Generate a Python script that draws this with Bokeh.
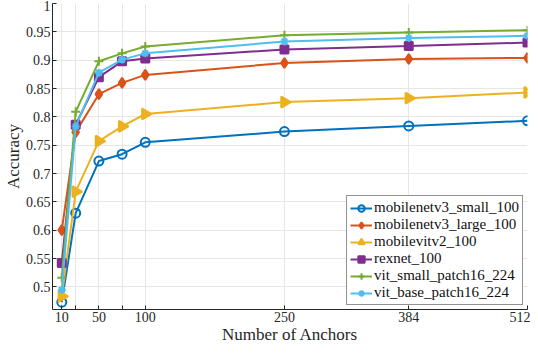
from bokeh.plotting import figure
from bokeh.models import FixedTicker, Range1d, Legend
from bokeh.embed import file_html
from bokeh.resources import INLINE
import math

anchors = [10, 25, 50, 75, 100, 250, 384, 512]
x_tick_values = [10, 25, 50, 75, 100, 250, 384, 512]
x_tick_labels = ["10", "", "50", "", "100", "250", "384", "512"]
y_tick_values = [0.5, 0.55, 0.6, 0.65, 0.7, 0.75, 0.8, 0.85, 0.9, 0.95, 1.0]
y_tick_labels = ["0.5", "0.55", "0.6", "0.65", "0.7", "0.75", "0.8", "0.85", "0.9", "0.95", "1"]

mobilenetv3_small_100 = [0.473, 0.630, 0.722, 0.734, 0.755, 0.774, 0.784, 0.793]
mobilenetv3_large_100 = [0.600, 0.773, 0.840, 0.860, 0.874, 0.895, 0.902, 0.904]
mobilevitv2_100 = [0.483, 0.668, 0.757, 0.783, 0.805, 0.826, 0.833, 0.843]
rexnet_100 = [0.542, 0.786, 0.870, 0.898, 0.903, 0.919, 0.925, 0.931]
vit_small_patch16_224 = [0.516, 0.809, 0.898, 0.912, 0.924, 0.944, 0.949, 0.953]
vit_base_patch16_224 = [0.495, 0.783, 0.878, 0.901, 0.912, 0.933, 0.939, 0.943]

series_names = ["mobilenetv3_small_100", "mobilenetv3_large_100", "mobilevitv2_100",
                "rexnet_100", "vit_small_patch16_224", "vit_base_patch16_224"]
series_values = [mobilenetv3_small_100, mobilenetv3_large_100, mobilevitv2_100,
                 rexnet_100, vit_small_patch16_224, vit_base_patch16_224]
colors = ["#0072BD", "#D95319", "#EDB120", "#7E2F8E", "#77AC30", "#4DBEEE"]
markers = ["circle", "diamond", "triangle", "square", "cross", "asterisk"]
angles = [0, 0, -math.pi / 2, 0, 0, 0]
sizes = [9, 10, 11, 8, 9, 8]
fills = [None, "self", "self", "self", None, None]

FONT = "Liberation Serif"

p = figure(width=530, height=346, output_backend="svg", toolbar_location=None,
           x_range=Range1d(0, 512), y_range=Range1d(0.46, 1.0),
           min_border_left=0, min_border_right=3, min_border_top=3, min_border_bottom=0)
p.outline_line_color = None
p.background_fill_color = "white"

items = []
for name, vals, c, m, a, s, f in zip(series_names, series_values, colors, markers, angles, sizes, fills):
    r1 = p.line(anchors, vals, line_color=c, line_width=2)
    fc = c if f == "self" else None
    r2 = p.scatter(anchors, vals, marker=m, angle=a, size=s, line_color=c, line_width=2,
                   fill_color=fc if fc else "white", fill_alpha=1.0 if fc else 0.0)
    items.append((name, [r1, r2]))

legend = Legend(items=items, location="bottom_right")
legend.label_text_font = FONT
legend.label_text_font_size = "15px"
legend.label_text_color = "#111111"
legend.border_line_color = "#262626"
legend.border_line_width = 1
legend.background_fill_alpha = 1.0
legend.spacing = 0
legend.padding = 3
legend.margin = 4
legend.glyph_width = 22
legend.glyph_height = 16
legend.label_standoff = 2
legend.label_height = 16
p.add_layout(legend)

p.xaxis.ticker = FixedTicker(ticks=x_tick_values)
p.xaxis.major_label_overrides = {v: l for v, l in zip(x_tick_values, x_tick_labels)}
p.yaxis.ticker = FixedTicker(ticks=y_tick_values)
p.yaxis.major_label_overrides = {v: l for v, l in zip(y_tick_values, y_tick_labels)}

for ax in (p.xaxis, p.yaxis):
    ax.axis_line_color = "#262626"
    ax.major_tick_line_color = "#262626"
    ax.major_tick_in = 4
    ax.major_tick_out = 0
    ax.minor_tick_line_color = None
    ax.major_label_text_font = FONT
    ax.major_label_text_font_size = "14px"
    ax.major_label_text_color = "#262626"
    ax.axis_label_text_font = FONT
    ax.axis_label_text_font_size = "17px"
    ax.axis_label_text_font_style = "normal"
    ax.axis_label_text_color = "#262626"

p.xaxis.axis_label = "Number of Anchors"
p.yaxis.axis_label = "Accuracy"
p.xaxis.major_label_standoff = 2
p.xaxis.axis_label_standoff = 0
p.yaxis.major_label_standoff = 2
p.yaxis.axis_label_standoff = 0

p.xgrid.ticker = FixedTicker(ticks=x_tick_values)
p.ygrid.ticker = FixedTicker(ticks=y_tick_values)
p.grid.grid_line_color = "#E6E6E6"
p.grid.grid_line_width = 1

open("out.html", "w").write(file_html(p, INLINE))
